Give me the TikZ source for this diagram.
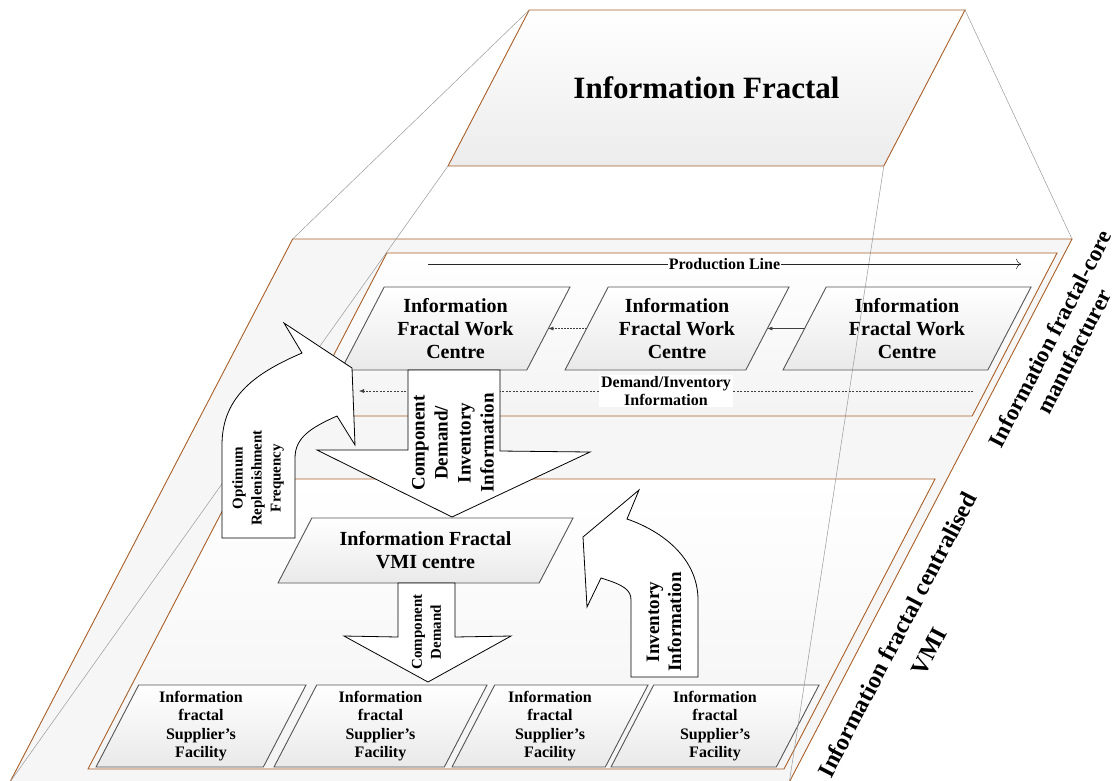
\documentclass[tikz,border=0pt]{standalone}
\usepackage{fontspec}
\setmainfont{Liberation Serif}
\usetikzlibrary{arrows.meta,positioning}

\definecolor{panelbrown}{RGB}{170,95,40}
\definecolor{boxgray}{RGB}{85,85,85}

\tikzstyle{level} = [draw=panelbrown, line width=0.9pt, top color=white, bottom color=gray!9]
\tikzstyle{centre} = [draw=boxgray, line width=0.9pt, top color=white, bottom color=gray!17]
\tikzstyle{bigarrow} = [draw=black, fill=white, line width=0.8pt, line join=miter]
\tikzstyle{projline} = [draw=gray!80, line width=0.5pt]
\tikzstyle{flow} = [draw=gray!50!black, line width=0.5pt, -{Latex[length=5pt,width=4pt]}]
\tikzstyle{boxtext} = [align=center, font=\bfseries]
\tikzstyle{arrowtext} = [rotate=90, align=center, font=\bfseries]
\tikzstyle{sidetext} = [rotate=62.5, align=center, font=\bfseries]
\def\wcfont{\fontsize{20}{23}\selectfont}
\def\supfont{\fontsize{16}{18.5}\selectfont}
\def\slantratio{0.5206}

% parallelogram with named corners, side midpoints and text node
% [shape style]{name}{x}{y}{total width}{height}{text style}{text}
\newcommand{\parabox}[8][level]{%
    \pgfmathsetmacro\parS{\slantratio*#6}%
    \pgfmathsetmacro\parL{#3-#5/2}%
    \pgfmathsetmacro\parR{#3+#5/2}%
    \pgfmathsetmacro\parT{#4-#6/2}%
    \pgfmathsetmacro\parB{#4+#6/2}%
    \path [#1] (\parL,\parB) coordinate (#2-bl) -- (\parR-\parS,\parB) coordinate (#2-br)
        -- (\parR,\parT) coordinate (#2-tr) -- (\parL+\parS,\parT) coordinate (#2-tl) -- cycle;
    \coordinate (#2-w) at (\parL+\parS/2,#4);
    \coordinate (#2-e) at (\parR-\parS/2,#4);
    \node (#2) [boxtext, #7] at (#3,#4) {#8};%
}

\begin{document}
\begin{tikzpicture}[x=1pt,y=-1pt]
    \useasboundingbox (0,0) rectangle (1115,780);

    % levels of the fractal
    \parabox[draw=panelbrown, line width=0.9pt, fill=gray!7]{core}{541}{510.5}{1062}{543}{}{}
    \parabox{line}{679.5}{334.5}{755}{163}{}{}
    \parabox{vmi}{511.5}{624}{847}{290}{}{}
    \parabox[level, bottom color=gray!15]{top}{706.5}{88}{517}{156}
        {font=\bfseries\fontsize{31}{36}\selectfont}{Information Fractal}

    % work centres
    \parabox[centre]{wc1}{455.5}{328.5}{229}{83}{font=\bfseries\wcfont}
        {Information\\Fractal Work\\Centre}
    \parabox[centre]{wc2}{677}{328.5}{224}{83}{font=\bfseries\wcfont}
        {Information\\Fractal Work\\Centre}
    \parabox[centre]{wc3}{907}{328.5}{248}{83}{font=\bfseries\wcfont}
        {Information\\Fractal Work\\Centre}

    \parabox[centre]{vmic}{425.5}{550.5}{295}{65}{font=\bfseries\wcfont}
        {Information Fractal\\VMI centre}

    % supplier facilities
    \parabox[centre]{sup1}{201}{726}{210}{82}{font=\bfseries\supfont}
        {Information\\fractal\\Supplier’s\\Facility}
    \parabox[centre]{sup2}{380.5}{726}{213}{82}{font=\bfseries\supfont}
        {Information\\fractal\\Supplier’s\\Facility}
    \parabox[centre]{sup3}{550}{726}{196}{82}{font=\bfseries\supfont}
        {Information\\fractal\\Supplier’s\\Facility}
    \parabox[centre]{sup4}{715}{726}{208}{82}{font=\bfseries\supfont}
        {Information\\fractal\\Supplier’s\\Facility}

    % projection from the top level
    \path [projline] (top-tl) -- (core-tl);
    \path [projline] (top-tr) -- (core-tr);
    \path [projline] (top-bl) -- (core-bl);
    \path [projline] (top-br) -- (core-br);

    % flows between work centres
    \coordinate (pl-a) at (428,264);
    \coordinate (pl-b) at (1021,264);
    \path [draw, gray!30!black, line width=0.5pt, -{To[length=5pt]}] (pl-a) --
        node [fill=white, inner sep=1pt, text=black, font=\bfseries\fontsize{16}{18}\selectfont]
        {Production Line} (pl-b);
    \path [flow] (wc3-w) -- (wc2-e);
    \path [flow, densely dotted] (wc2-w) -- (wc1-e);

    \coordinate (di-a) at (973,391);
    \coordinate (di-b) at (359,391);
    \path [flow, dash pattern=on 2pt off 1.5pt] (di-a) --
        node [fill=white, inner xsep=2pt, inner ysep=1pt, align=center,
        font=\bfseries\fontsize{16}{18}\selectfont] {Demand/Inventory\\Information} (di-b);

    % block arrows
    \path [bigarrow] (408,370) -- (500,370) -- (500,451) -- (590,452) -- (452,517)
        -- (317,450) -- (408,450) -- cycle;
    \node (cdi) [arrowtext, font=\bfseries\fontsize{19}{23}\selectfont] at (453,443)
        {Component\\Demand/\\Inventory\\Information};

    \path [bigarrow] (222,538) -- (222,445) .. controls (222,395) and (258,372) .. (302,353)
        -- (284,323) -- (352,368) -- (355,445) -- (337,416)
        .. controls (310,428) and (295,438) .. (295,458) -- (295,538) -- cycle;
    \node (orf) [arrowtext, font=\bfseries\fontsize{15}{19}\selectfont] at (258,478)
        {Optimum\\Replenishment\\Frequency};

    \path [bigarrow] (398,583) -- (455,583) -- (455,637) -- (511,636) -- (428,682)
        -- (344,636) -- (398,637) -- cycle;
    \node (cd) [arrowtext, font=\bfseries\fontsize{15}{19}\selectfont] at (426.5,632)
        {Component\\Demand};

    \path [bigarrow] (631,677) -- (631,600) .. controls (631,590) and (624,585) .. (601,578)
        -- (587,607) -- (583,537) -- (639,490) -- (627,519)
        .. controls (662,531) and (698,558) .. (698,600) -- (698,677) -- cycle;
    \node (ii) [arrowtext, font=\bfseries\fontsize{19}{22}\selectfont] at (664,622)
        {Inventory\\Information};

    % level names
    \node (core-name) [sidetext, font=\bfseries\fontsize{23}{27}\selectfont] at (1062,345)
        {Information fractal-core\\manufacturer};
    \node (vmi-name) [sidetext, font=\bfseries\fontsize{24}{36}\selectfont] at (913,643)
        {Information fractal centralised\\VMI};
\end{tikzpicture}
\end{document}
